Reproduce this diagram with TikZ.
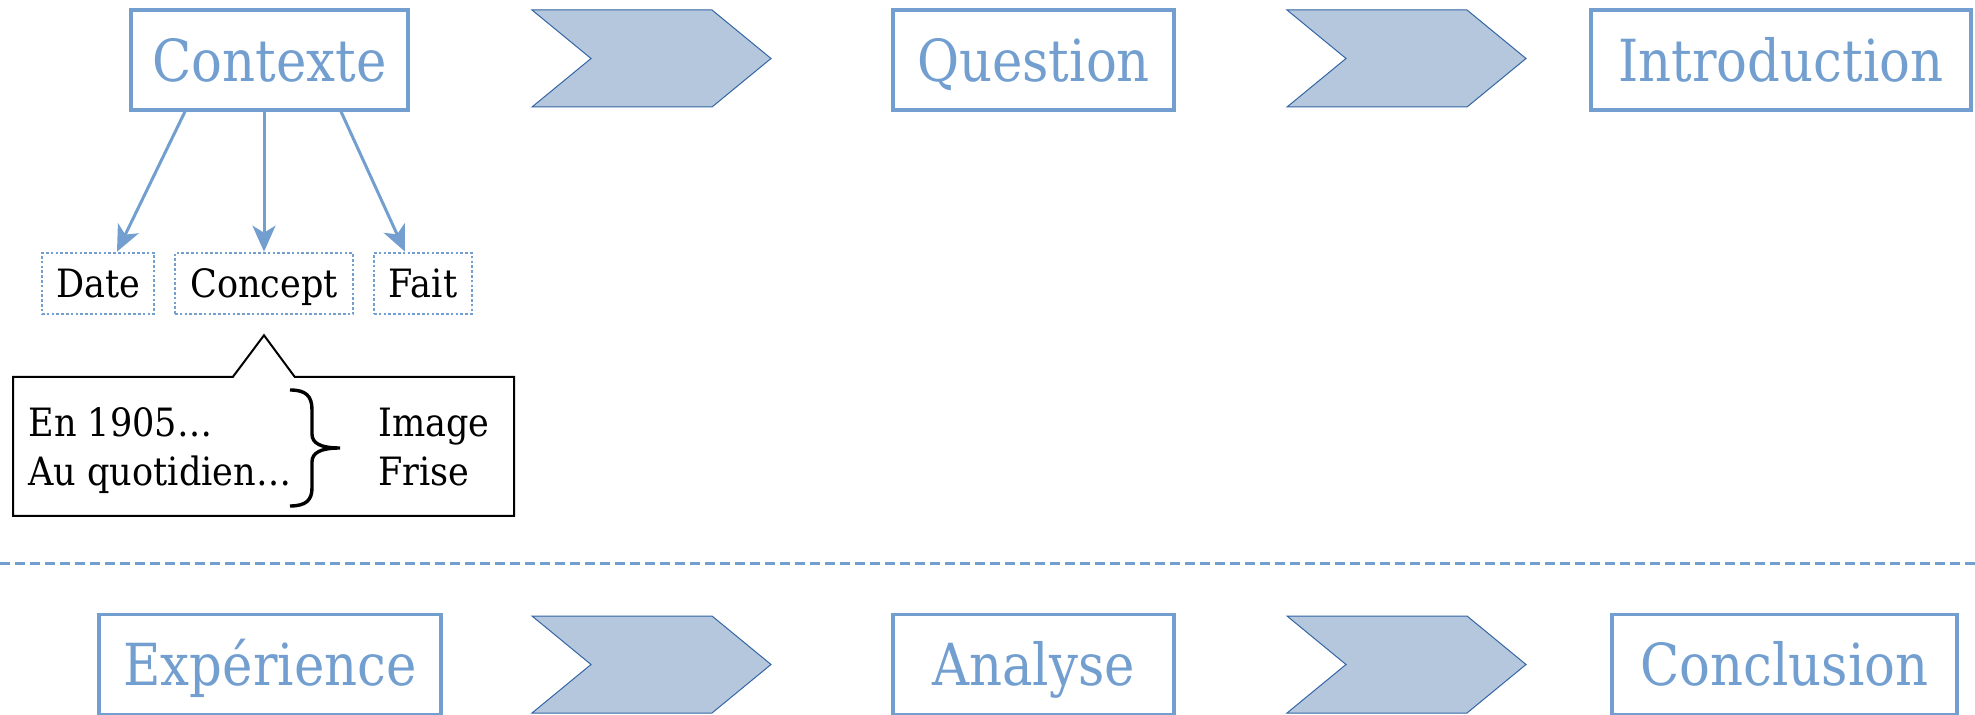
\documentclass[tikz,border=0pt]{standalone}
\usepackage{fontspec}
\setmainfont{DejaVu Serif}
\newfontfamily\labelfont[FakeStretch=0.885]{DejaVu Serif}
\newfontfamily\itemfont[FakeStretch=0.9]{DejaVu Serif}
\usetikzlibrary{arrows.meta,shapes.callouts,calc}
\definecolor{sky}{HTML}{729FCF}
\definecolor{chevfill}{HTML}{B4C7DC}
\definecolor{chevline}{HTML}{3465A4}
\tikzset{
  stage/.style={draw=sky, line width=1.6pt, text=sky,
    font=\labelfont\fontsize{29}{32}\selectfont, inner sep=0pt,
    text height=21.1pt, text depth=0pt, minimum height=50pt},
  item/.style={draw=sky, line width=1.3pt, dash pattern=on 1.3pt off 1.1pt,
    font=\itemfont\fontsize{19.5}{22}\selectfont, inner sep=0pt,
    text height=14.2pt, text depth=0pt, minimum height=30.5pt},
  chevron/.style={fill=chevfill, draw=chevline, line width=0.5pt, line join=miter},
  link/.style={draw=sky, line width=1.5pt, -{Stealth[length=13pt,width=11.5pt,inset=3.5pt]}},
  note/.style={font=\itemfont\fontsize{19.5}{22}\selectfont, anchor=base west, inner sep=0pt},
  chev/.pic={\path[chevron] (0,-48.5) -- (180,-48.5) -- (239,0) -- (180,48.5)
    -- (0,48.5) -- (59,0) -- cycle;}
}
\begin{document}
\begin{tikzpicture}[x=0.5pt,y=-0.5pt]
\useasboundingbox (0,0) rectangle (1975,715);

% top row
\node[stage, minimum width=138.5pt] (ctx) at (269.5,60) {Contexte};
\pic at (532,58.5) {chev};
\node[stage, minimum width=140.5pt] (quest) at (1033.5,60) {Question};
\pic at (1287,58.5) {chev};
\node[stage, minimum width=190pt] (intro) at (1781,60) {Introduction};

% context items
\node[item, minimum width=56pt] (date) at (98,283.5) {Date};
\node[item, minimum width=89pt] (concept) at (264,283.5) {Concept};
\node[item, minimum width=49pt] (fait) at (423,283.5) {Fait};

\draw[link] ([xshift=-42.25pt]ctx.south) -- ([xshift=9.5pt]date.north);
\draw[link] (ctx.south -| concept.north) -- (concept.north);
\draw[link] ([xshift=35.75pt]ctx.south) -- ([xshift=-9pt]fait.north);

% speech bubble with examples
\node[rectangle callout, draw=black, line width=1pt, minimum width=250.5pt,
  minimum height=69.5pt, callout pointer width=31pt,
  callout absolute pointer={([yshift=-10pt]concept.south)}] (bubble) at (263.5,446.5) {};
\node[note] (en) at (28,437) {En 1905…};
\node[note] (au) at (28,486) {Au quotidien…};
\node[note] (img) at (378,437) {Image};
\node[note] (frise) at (378,486) {Frise};
\draw[line width=1.7pt] (290,390) .. controls (306,390) and (312,396) .. (312,410)
  -- (312,434) .. controls (312,443) and (320,448) .. (340,448)
  .. controls (320,448) and (312,453) .. (312,462)
  -- (312,488) .. controls (312,500) and (306,506) .. (290,506);

% separator
\draw[sky, line width=1.5pt, dash pattern=on 5pt off 2.5pt] (0,564) -- (1975,564);

% bottom row
\node[stage, minimum width=171pt] (exp) at (270,664.5) {Expérience};
\pic at (532,664.5) {chev};
\node[stage, minimum width=140.5pt] (ana) at (1033.5,664.5) {Analyse};
\pic at (1287,664.5) {chev};
\node[stage, minimum width=172.5pt] (concl) at (1784.5,664.5) {Conclusion};
\end{tikzpicture}
\end{document}
